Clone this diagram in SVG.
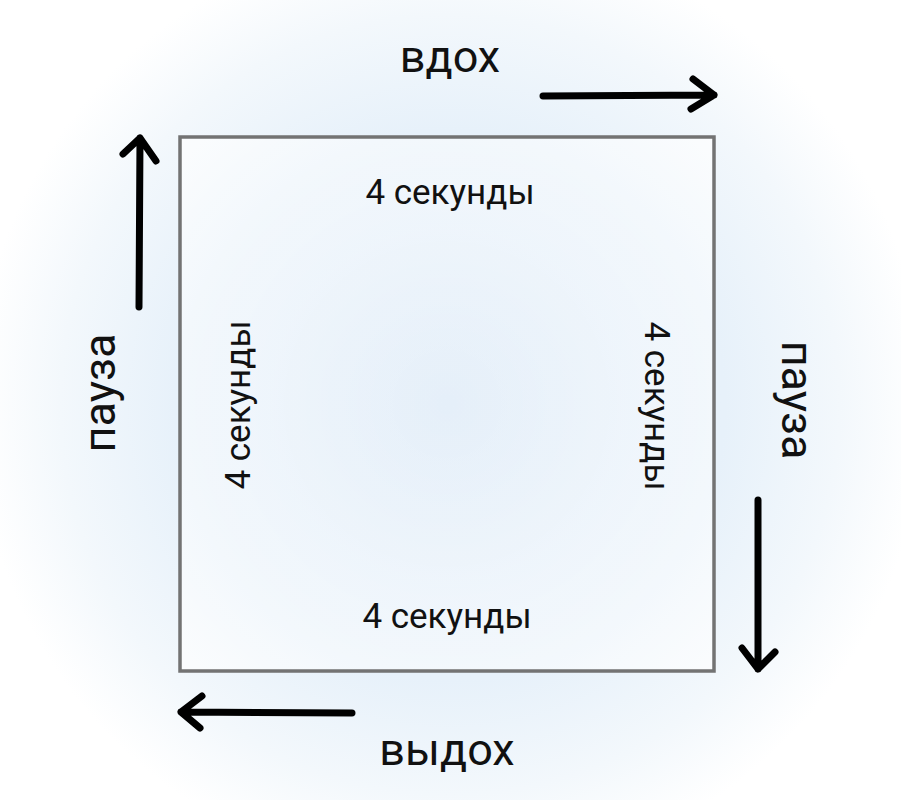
<svg xmlns="http://www.w3.org/2000/svg" width="901" height="800" viewBox="0 0 901 800">
  <defs>
    <radialGradient id="bg" cx="450" cy="405" r="500" gradientUnits="userSpaceOnUse">
      <stop offset="0" stop-color="#e5eff9"/>
      <stop offset="0.55" stop-color="#e7f1fa"/>
      <stop offset="0.78" stop-color="#f3f8fc"/>
      <stop offset="0.95" stop-color="#ffffff"/>
    </radialGradient>
    <radialGradient id="inner" cx="447" cy="404" r="380" gradientUnits="userSpaceOnUse">
      <stop offset="0" stop-color="#ffffff" stop-opacity="0"/>
      <stop offset="1" stop-color="#ffffff" stop-opacity="0.7"/>
    </radialGradient>
    <style>
      .lbl { font-family: Roboto, "Liberation Sans", sans-serif; font-size: 45px; fill: #111; text-anchor: middle; }
      .sec { font-family: Roboto, "Liberation Sans", sans-serif; font-size: 35px; fill: #111; text-anchor: middle; }
      .arr { fill: none; stroke: #000; stroke-width: 7; stroke-linecap: round; stroke-linejoin: round; }
    </style>
  </defs>
  <rect x="0" y="0" width="901" height="800" fill="url(#bg)"/>

  <g id="square">
    <rect x="180" y="137" width="534" height="534" fill="url(#inner)" stroke="#737373" stroke-width="3.5"/>
    <text class="sec" x="450" y="204">4 секунды</text>
    <text class="sec" x="447" y="628">4 секунды</text>
    <text class="sec" transform="translate(250,405) rotate(-90)">4 секунды</text>
    <text class="sec" transform="translate(645,406) rotate(90)">4 секунды</text>
  </g>

  <g id="label-inhale">
    <text class="lbl" x="450" y="72">вдох</text>
  </g>
  <g id="label-exhale">
    <text class="lbl" x="447" y="765">выдох</text>
  </g>
  <g id="label-pause-left">
    <text class="lbl" transform="translate(115,393) rotate(-90)">пауза</text>
  </g>
  <g id="label-pause-right">
    <text class="lbl" transform="translate(782,400) rotate(90)">пауза</text>
  </g>

  <g id="connectors">
    <path class="arr" d="M543,96 L714,95 M693,79 L714,95 L691,109"/>
    <path class="arr" d="M758,500 L758,669 M742,648 L758,669 L775,652"/>
    <path class="arr" d="M352,713 L181,712 M202,696 L181,712 L200,728"/>
    <path class="arr" d="M139,307 L140,138 M123,154 L140,138 L156,161"/>
  </g>
</svg>
